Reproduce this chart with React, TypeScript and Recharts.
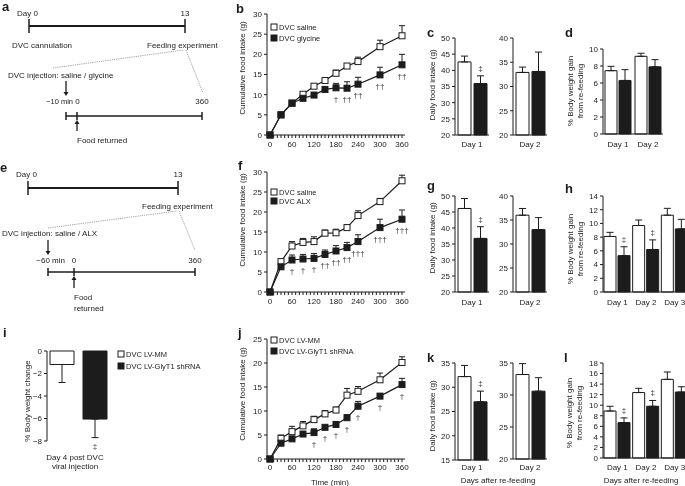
import { LineChart, Line, BarChart, Bar, XAxis, YAxis, ErrorBar, LabelList } from 'recharts';

const FONT = '"Liberation Sans", Arial, Helvetica, sans-serif';
const INK = '#1c1c1c';
const tickStyle = { fontSize: 8, fill: INK, fontFamily: FONT };

// ---------- cumulative food intake (b, f, j) ----------
const times = [0, 30, 60, 90, 120, 150, 180, 210, 240, 300, 360];
const minuteTicks = Array.from({ length: 37 }, (_, i) => i * 10);

const bSaline = [0, 5.0, 7.9, 10.1, 12.1, 13.5, 15.3, 17.1, 18.2, 21.9, 24.6];
const bSalineTop = [0, 5.0, 7.9, 10.5, 12.6, 14.2, 16.1, 17.5, 19.3, 23.5, 27.1];
const bGlycine = [0, 5.0, 7.9, 9.1, 9.9, 11.3, 11.7, 11.6, 12.6, 14.9, 17.4];
const bGlycineTop = [0, 5.0, 7.9, 9.5, 10.4, 11.8, 12.8, 13.2, 14.3, 16.8, 20.0];
const bMarks = ['', '', '', '', '', '', '†', '††', '††', '††', '††'];

const fSaline = [0, 7.6, 11.5, 12.4, 12.6, 14.7, 14.8, 16.1, 19.1, 22.6, 27.8];
const fSalineTop = [0, 8.1, 12.6, 13.4, 13.8, 15.5, 15.7, 16.8, 20.3, 23.4, 29.2];
const fAlx = [0, 6.3, 8.0, 8.25, 8.4, 9.4, 10.25, 11.1, 12.6, 16.1, 18.2];
const fAlxTop = [0, 6.6, 9.25, 9.4, 9.6, 10.5, 11.6, 12.4, 14.3, 18.2, 20.5];
const fMarks = ['', '', '†', '†', '†', '††', '††', '††', '†††', '†††', '†††'];

const jMm = [0, 4.3, 5.7, 6.9, 8.2, 9.4, 10.2, 13.3, 14.1, 16.5, 20.1];
const jMmTop = [0, 5.0, 6.8, 7.8, 8.9, 10.1, 10.8, 14.7, 15.1, 17.9, 21.3];
const jShrna = [0, 3.3, 4.2, 5.2, 5.5, 6.6, 7.2, 8.6, 11.0, 13.1, 15.5];
const jShrnaTop = [0, 3.3, 4.6, 5.5, 6.3, 6.9, 7.8, 9.2, 12.0, 13.6, 16.8];
const jMarks = ['', '', '', '', '†', '†', '†', '†', '†', '†', '†'];

const ticks30 = [0, 5, 10, 15, 20, 25, 30];
const ticks25 = [0, 5, 10, 15, 20, 25];

// ---------- bar panels ----------
const dayOne = ['Day 1'];
const dayTwo = ['Day 2'];
const daysTwo = ['Day 1', 'Day 2'];
const daysThree = ['Day 1', 'Day 2', 'Day 3'];

// c
const cD1Saline = [42.6], cD1SalineTop = [44.4], cD1Gly = [35.9], cD1GlyTop = [38.3], cD1Marks = ['‡'];
const cD2Saline = [32.9], cD2SalineTop = [34.0], cD2Gly = [33.1], cD2GlyTop = [37.1], cD2Marks = [''];
// d
const dSaline = [7.45, 9.14], dSalineTop = [7.96, 9.5], dGly = [6.3, 7.9], dGlyTop = [7.57, 8.75], dMarks = ['', ''];
// g
const gD1Saline = [46.1], gD1SalineTop = [49.2], gD1Alx = [36.75], gD1AlxTop = [40.4], gD1Marks = ['‡'];
const gD2Saline = [36.0], gD2SalineTop = [37.4], gD2Alx = [33.0], gD2AlxTop = [35.5], gD2Marks = [''];
// h
const hSaline = [8.1, 9.7, 11.2], hSalineTop = [8.7, 10.5, 12.2];
const hAlx = [5.3, 6.2, 9.2], hAlxTop = [6.6, 7.6, 10.6], hMarks = ['‡', '‡', ''];
// k
const kD1Mm = [32.2], kD1MmTop = [34.5], kD1Sh = [27.0], kD1ShTop = [29.2], kD1Marks = ['‡'];
const kD2Mm = [33.2], kD2MmTop = [34.9], kD2Sh = [30.6], kD2ShTop = [32.7], kD2Marks = [''];
// l
const lMm = [8.9, 12.4, 14.9], lMmTop = [9.8, 13.2, 16.3];
const lSh = [6.7, 9.8, 12.5], lShTop = [7.6, 10.9, 13.5], lMarks = ['‡', '‡', ''];
// i
const iGroup = [''];
const iMm = [-1.2], iMmEnd = [-2.8], iSh = [-6.05], iShEnd = [-7.7], iMarks = ['‡'];

type Box = { x0: number; x1: number; y0: number; y1: number };

function frame(b: Box, yw: number, xh: number, mr = 2, mb = 2) {
  const mt = 6;
  const pw = Math.round(b.x1 - b.x0);
  const ph = Math.round(b.y1 - b.y0);
  return {
    style: { position: 'absolute' as const, left: Math.round(b.x0) - yw, top: Math.round(b.y0) - mt },
    width: yw + pw + mr,
    height: mt + ph + xh + mb,
    margin: { top: mt, right: mr, bottom: mb, left: 0 },
  };
}

const square = (filled: boolean) => (p: any) => (
  <rect key={`sq-${p.index}`} x={p.cx - 3} y={p.cy - 3} width={6} height={6}
    fill={filled ? INK : '#fff'} stroke={INK} strokeWidth={1} />
);

const markStyle = { fontSize: 8, fill: '#333', fontFamily: FONT };

const daggerBelow = (p: any) => {
  if (!p.value) return null;
  const vb = p.viewBox ?? p;
  const x = vb.x + (vb.width || 0) / 2;
  const y = vb.y + (vb.height || 0) / 2;
  return <text x={x} y={y + 14} textAnchor="middle" {...markStyle}>{p.value}</text>;
};

function errorMark(marks: string[], vals: number[], ends: number[], base: number) {
  return (p: any) => {
    const i = p.index ?? 0;
    const m = marks[i];
    if (!m) return null;
    const vb = p.viewBox ?? p;
    const a = vb.y, b = vb.y + vb.height;
    const v = vals[i];
    const valuePx = v >= base ? Math.min(a, b) : Math.max(a, b);
    const basePx = v >= base ? Math.max(a, b) : Math.min(a, b);
    const endPx = basePx + ((ends[i] - base) * (valuePx - basePx)) / (v - base);
    const up = ends[i] >= v;
    return (
      <text x={vb.x + vb.width / 2} y={up ? endPx - 5 : endPx + 11} textAnchor="middle" {...markStyle}>{m}</text>
    );
  };
}

const dayTick = (p: any) => (
  <text x={p.x} y={p.y} dy={6.5} textAnchor="middle" fontSize={8} fill={INK} fontFamily={FONT}>
    {p.payload.value}
  </text>
);

const spread = (v: number, end: number) => (end >= v ? [0, end - v] : [v - end, 0]);

function Cumulative(props: {
  box: Box; yMax: number; yTicks: number[]; tickGap: number;
  ctrl: number[]; ctrlTop: number[]; trt: number[]; trtTop: number[]; marks: string[];
}) {
  const { box, yMax, yTicks, tickGap, ctrl, ctrlTop, trt, trtTop, marks } = props;
  const rows = times.map((t, i) => ({
    t,
    ctrl: ctrl[i],
    ctrlErr: [0, ctrlTop[i] - ctrl[i]],
    trt: trt[i],
    trtErr: [0, trtTop[i] - trt[i]],
    mark: marks[i],
  }));
  const f = frame(box, 26, 14, 14);
  return (
    <div style={f.style}>
      <LineChart width={f.width} height={f.height} margin={f.margin} data={rows}>
        <XAxis dataKey="t" type="number" domain={[0, 360]} ticks={minuteTicks} interval={0}
          tickFormatter={(v: number) => (v % 60 === 0 ? String(v) : '')}
          padding={{ left: 3, right: 3 }} height={14} tickSize={3} tickMargin={tickGap}
          stroke={INK} tick={tickStyle} />
        <YAxis type="number" domain={[0, yMax]} ticks={yTicks} interval={0} width={26}
          tickSize={3} tickMargin={2} stroke={INK} tick={tickStyle} />
        <Line type="linear" dataKey="ctrl" stroke={INK} strokeWidth={1.2} dot={square(false)}
          isAnimationActive={false}>
          <ErrorBar dataKey="ctrlErr" direction="y" width={3} stroke={INK} strokeWidth={1} />
        </Line>
        <Line type="linear" dataKey="trt" stroke={INK} strokeWidth={1.2} dot={square(true)}
          isAnimationActive={false}>
          <ErrorBar dataKey="trtErr" direction="y" width={3} stroke={INK} strokeWidth={1} />
          <LabelList dataKey="mark" content={daggerBelow} />
        </Line>
      </LineChart>
    </div>
  );
}

function Bars(props: {
  box: Box; days: string[]; domain: [number, number]; ticks: number[];
  ctrl: number[]; ctrlEnd: number[]; trt: number[]; trtEnd: number[]; marks: string[];
  barSize: number; barGap: number; yw?: number; dayGap?: number; hideX?: boolean;
  fmt?: (v: number) => string;
}) {
  const { box, days, domain, ticks, ctrl, ctrlEnd, trt, trtEnd, marks, barSize, barGap } = props;
  const yw = props.yw ?? 20;
  const xh = props.hideX ? 0 : 14;
  const rows = days.map((day, i) => ({
    day,
    ctrl: ctrl[i],
    ctrlErr: spread(ctrl[i], ctrlEnd[i]),
    trt: trt[i],
    trtErr: spread(trt[i], trtEnd[i]),
    mark: marks[i],
  }));
  const base = domain[0] > 0 ? domain[0] : domain[1] < 0 ? domain[1] : 0;
  const f = frame(box, yw, xh, 4, props.hideX ? 14 : 2);
  return (
    <div style={f.style}>
      <BarChart width={f.width} height={f.height} margin={f.margin} data={rows}
        barSize={barSize} barGap={barGap}>
        <XAxis dataKey="day" hide={props.hideX} tickLine={false} tickSize={0}
          tickMargin={props.dayGap ?? 5} height={xh} interval={0} stroke={INK} tick={dayTick} />
        <YAxis type="number" domain={domain} ticks={ticks} interval={0} width={yw}
          tickSize={3} tickMargin={2} stroke={INK} tick={tickStyle} tickFormatter={props.fmt} />
        <Bar dataKey="ctrl" fill="#fff" stroke={INK} strokeWidth={1} isAnimationActive={false}>
          <ErrorBar dataKey="ctrlErr" direction="y" width={3.5} stroke={INK} strokeWidth={1} />
        </Bar>
        <Bar dataKey="trt" fill={INK} stroke={INK} strokeWidth={1} isAnimationActive={false}>
          <ErrorBar dataKey="trtErr" direction="y" width={3.5} stroke={INK} strokeWidth={1} />
          <LabelList dataKey="mark" content={errorMark(marks, trt, trtEnd, base)} />
        </Bar>
      </BarChart>
    </div>
  );
}

function Arrow({ x, from, to }: { x: number; from: number; to: number }) {
  const dir = to > from ? 1 : -1;
  return (
    <g>
      <line x1={x} y1={from} x2={x} y2={to - dir * 3} stroke={INK} strokeWidth={1.3} />
      <path d={`M${x - 2.5},${to - dir * 4} L${x + 2.5},${to - dir * 4} L${x},${to} Z`} fill={INK} />
    </g>
  );
}

function Tick({ x, y, h }: { x: number; y: number; h: number }) {
  return <line x1={x} y1={y - h} x2={x} y2={y + h} stroke={INK} strokeWidth={1.5} />;
}

function VTitle({ x, y, lines }: { x: number; y: number; lines: string[] }) {
  return (
    <>
      {lines.map((s, k) => (
        <text key={k} x={x + k * 10} y={y} textAnchor="middle" dominantBaseline="central"
          transform={`rotate(-90 ${x + k * 10} ${y})`}>{s}</text>
      ))}
    </>
  );
}

function LegendRow({ x, y, filled, text }: { x: number; y: number; filled: boolean; text: string }) {
  return (
    <g>
      <rect x={x - 3} y={y - 3} width={6} height={6} fill={filled ? INK : '#fff'} stroke={INK} strokeWidth={1} />
      <text x={x + 5} y={y} dominantBaseline="central" fontSize={7.5}>{text}</text>
    </g>
  );
}

function Overlay() {
  const letter = { fontSize: 13, fontWeight: 700 as const };
  const dotted = { stroke: '#8a8a8a', strokeWidth: 0.8, strokeDasharray: '1.2 1' };
  return (
    <svg width={685} height={486} style={{ position: 'absolute', left: 0, top: 0, pointerEvents: 'none' }}
      fontFamily={FONT} fontSize={8} fill={INK}>
      {/* panel letters */}
      <text x={2} y={11} {...letter}>a</text>
      <text x={236} y={13} {...letter}>b</text>
      <text x={427} y={37} {...letter}>c</text>
      <text x={565} y={37} {...letter}>d</text>
      <text x={0} y={172} {...letter}>e</text>
      <text x={238} y={170} {...letter}>f</text>
      <text x={427} y={190} {...letter}>g</text>
      <text x={565} y={193} {...letter}>h</text>
      <text x={3} y={337} {...letter}>i</text>
      <text x={238} y={337} {...letter}>j</text>
      <text x={427} y={362} {...letter}>k</text>
      <text x={564} y={362} {...letter}>l</text>

      {/* a: timeline */}
      <text x={17} y={16}>Day 0</text>
      <text x={185} y={16} textAnchor="middle">13</text>
      <line x1={29} y1={26} x2={185} y2={26} stroke={INK} strokeWidth={2} />
      <Tick x={29} y={26} h={7} />
      <Tick x={185} y={26} h={7} />
      <text x={12} y={48}>DVC cannulation</text>
      <text x={147} y={48}>Feeding experiment</text>
      <line x1={53} y1={68} x2={183} y2={50} {...dotted} />
      <line x1={186} y1={50} x2={203} y2={93} {...dotted} />
      <text x={8} y={78}>DVC injection: saline / glycine</text>
      <Arrow x={66} from={81} to={96} />
      <text x={73} y={104} textAnchor="end" fontSize={7.5}>−10 min</text>
      <text x={77.5} y={104} textAnchor="middle">0</text>
      <text x={202} y={104} textAnchor="middle">360</text>
      <line x1={66} y1={116} x2={202} y2={116} stroke={INK} strokeWidth={1.5} />
      <Tick x={66} y={116} h={4} />
      <Tick x={77} y={116} h={4} />
      <Tick x={202} y={116} h={4} />
      <Arrow x={77} from={131} to={120} />
      <text x={77} y={143}>Food returned</text>

      {/* e: timeline */}
      <text x={16} y={177}>Day 0</text>
      <text x={178} y={177} textAnchor="middle">13</text>
      <line x1={28} y1={188} x2={178} y2={188} stroke={INK} strokeWidth={2} />
      <Tick x={28} y={188} h={7} />
      <Tick x={178} y={188} h={7} />
      <text x={142} y={209}>Feeding experiment</text>
      <line x1={48} y1={228} x2={177} y2={211} {...dotted} />
      <line x1={179} y1={211} x2={195} y2={250} {...dotted} />
      <text x={2} y={236}>DVC injection: saline / ALX</text>
      <Arrow x={48} from={240} to={255} />
      <text x={65} y={263} textAnchor="end">−60 min</text>
      <text x={74} y={263} textAnchor="middle">0</text>
      <text x={195} y={263} textAnchor="middle">360</text>
      <line x1={48} y1={272} x2={195} y2={272} stroke={INK} strokeWidth={1.5} />
      <Tick x={48} y={272} h={4} />
      <Tick x={74} y={272} h={4} />
      <Tick x={195} y={272} h={4} />
      <Arrow x={74} from={288} to={276} />
      <text x={74} y={300}>Food</text>
      <text x={74} y={311}>returned</text>

      {/* axis titles */}
      <VTitle x={242} y={68} lines={['Cumulative food intake (g)']} />
      <VTitle x={242} y={220} lines={['Cumulative food intake (g)']} />
      <VTitle x={242} y={394} lines={['Cumulative food intake (g)']} />
      <VTitle x={432} y={85} lines={['Daily food intake (g)']} />
      <VTitle x={432} y={238} lines={['Daily food intake (g)']} />
      <VTitle x={432} y={416} lines={['Daily food intake (g)']} />
      <VTitle x={570} y={91} lines={['% Body weight gain', 'from re-feeding']} />
      <VTitle x={570} y={249} lines={['% Body weight gain', 'from re-feeding']} />
      <VTitle x={569} y={413} lines={['% Body weight gain', 'from re-feeding']} />
      <VTitle x={27} y={401} lines={['% Body weight change']} />
      <text x={330} y={482} textAnchor="middle" dominantBaseline="central">Time (min)</text>
      <text x={498} y={480} textAnchor="middle" dominantBaseline="central">Days after re-feeding</text>
      <text x={641} y={480} textAnchor="middle" dominantBaseline="central">Days after re-feeding</text>
      <text x={75} y={457} textAnchor="middle" dominantBaseline="central">Day 4 post DVC</text>
      <text x={75} y={466} textAnchor="middle" dominantBaseline="central">viral injection</text>

      {/* legends */}
      <LegendRow x={274} y={27} filled={false} text="DVC saline" />
      <LegendRow x={274} y={38} filled text="DVC glycine" />
      <LegendRow x={274} y={192} filled={false} text="DVC saline" />
      <LegendRow x={274} y={201} filled text="DVC ALX" />
      <LegendRow x={274} y={340} filled={false} text="DVC LV-MM" />
      <LegendRow x={274} y={351} filled text="DVC LV-GlyT1 shRNA" />
      <LegendRow x={121} y={354} filled={false} text="DVC LV-MM" />
      <LegendRow x={121} y={366} filled text="DVC LV-GlyT1 shRNA" />
    </svg>
  );
}

const minus = (v: number) => String(v).replace('-', '−');

export default function App() {
  return (
    <div style={{ position: 'absolute', left: 0, top: 0, width: 685, height: 486, overflow: 'hidden',
      background: '#fff', fontFamily: FONT, filter: 'grayscale(1)' }}>
      <Cumulative box={{ x0: 267, x1: 405, y0: 14, y1: 135 }} yMax={30} yTicks={ticks30} tickGap={3}
        ctrl={bSaline} ctrlTop={bSalineTop} trt={bGlycine} trtTop={bGlycineTop} marks={bMarks} />
      <Cumulative box={{ x0: 267, x1: 405, y0: 172, y1: 292 }} yMax={30} yTicks={ticks30} tickGap={3}
        ctrl={fSaline} ctrlTop={fSalineTop} trt={fAlx} trtTop={fAlxTop} marks={fMarks} />
      <Cumulative box={{ x0: 267, x1: 405, y0: 339, y1: 459 }} yMax={25} yTicks={ticks25} tickGap={2}
        ctrl={jMm} ctrlTop={jMmTop} trt={jShrna} trtTop={jShrnaTop} marks={jMarks} />

      <Bars box={{ x0: 455, x1: 489, y0: 38, y1: 135 }} days={dayOne} domain={[20, 50]}
        ticks={[20, 25, 30, 35, 40, 45, 50]} barSize={13} barGap={3}
        ctrl={cD1Saline} ctrlEnd={cD1SalineTop} trt={cD1Gly} trtEnd={cD1GlyTop} marks={cD1Marks} />
      <Bars box={{ x0: 513, x1: 547, y0: 38, y1: 135 }} days={dayTwo} domain={[20, 40]}
        ticks={[20, 25, 30, 35, 40]} barSize={13} barGap={3}
        ctrl={cD2Saline} ctrlEnd={cD2SalineTop} trt={cD2Gly} trtEnd={cD2GlyTop} marks={cD2Marks} />
      <Bars box={{ x0: 603, x1: 663, y0: 49, y1: 134 }} days={daysTwo} domain={[0, 10]}
        ticks={[0, 2, 4, 6, 8, 10]} barSize={12} barGap={2} dayGap={6}
        ctrl={dSaline} ctrlEnd={dSalineTop} trt={dGly} trtEnd={dGlyTop} marks={dMarks} />

      <Bars box={{ x0: 455, x1: 489, y0: 196, y1: 292 }} days={dayOne} domain={[20, 50]}
        ticks={[20, 25, 30, 35, 40, 45, 50]} barSize={13} barGap={3} dayGap={6}
        ctrl={gD1Saline} ctrlEnd={gD1SalineTop} trt={gD1Alx} trtEnd={gD1AlxTop} marks={gD1Marks} />
      <Bars box={{ x0: 513, x1: 547, y0: 196, y1: 292 }} days={dayTwo} domain={[20, 40]}
        ticks={[20, 25, 30, 35, 40]} barSize={13} barGap={3} dayGap={6}
        ctrl={gD2Saline} ctrlEnd={gD2SalineTop} trt={gD2Alx} trtEnd={gD2AlxTop} marks={gD2Marks} />
      <Bars box={{ x0: 603, x1: 689, y0: 196, y1: 292 }} days={daysThree} domain={[0, 14]}
        ticks={[0, 2, 4, 6, 8, 10, 12, 14]} barSize={12} barGap={2} dayGap={6}
        ctrl={hSaline} ctrlEnd={hSalineTop} trt={hAlx} trtEnd={hAlxTop} marks={hMarks} />

      <Bars box={{ x0: 455, x1: 489, y0: 363, y1: 460 }} days={dayOne} domain={[15, 35]}
        ticks={[15, 20, 25, 30, 35]} barSize={13} barGap={3} dayGap={3}
        ctrl={kD1Mm} ctrlEnd={kD1MmTop} trt={kD1Sh} trtEnd={kD1ShTop} marks={kD1Marks} />
      <Bars box={{ x0: 513, x1: 547, y0: 363, y1: 459 }} days={dayTwo} domain={[20, 35]}
        ticks={[20, 25, 30, 35]} barSize={13} barGap={3} dayGap={4}
        ctrl={kD2Mm} ctrlEnd={kD2MmTop} trt={kD2Sh} trtEnd={kD2ShTop} marks={kD2Marks} />
      <Bars box={{ x0: 603, x1: 689, y0: 363, y1: 458 }} days={daysThree} domain={[0, 18]}
        ticks={[0, 2, 4, 6, 8, 10, 12, 14, 16, 18]} barSize={12} barGap={2} dayGap={5}
        ctrl={lMm} ctrlEnd={lMmTop} trt={lSh} trtEnd={lShTop} marks={lMarks} />

      <Bars box={{ x0: 47, x1: 110, y0: 351, y1: 441 }} days={iGroup} domain={[-8, 0]}
        ticks={[-8, -6, -4, -2, 0]} barSize={24} barGap={9} hideX fmt={minus}
        ctrl={iMm} ctrlEnd={iMmEnd} trt={iSh} trtEnd={iShEnd} marks={iMarks} />

      <Overlay />
    </div>
  );
}
